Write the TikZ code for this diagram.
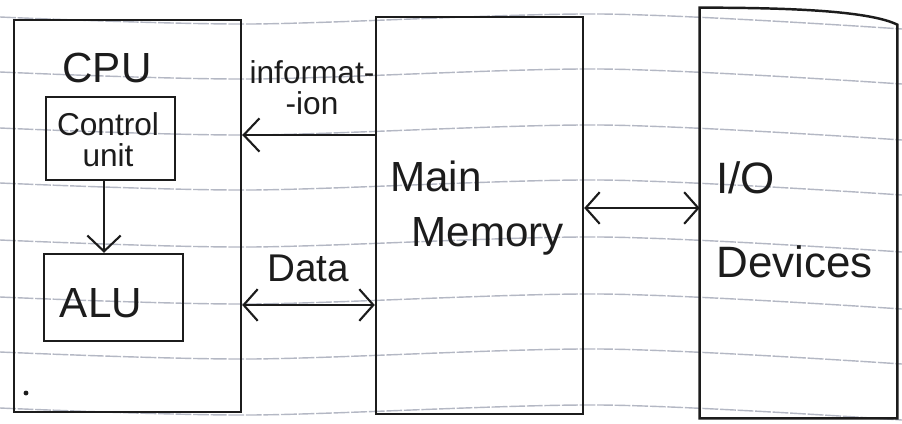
\documentclass[tikz,border=0pt]{standalone}
\usepackage{fontspec}
\setmainfont{Liberation Sans}
\usetikzlibrary{arrows.meta,fit,calc}
\definecolor{ink}{HTML}{1C1C1C}
\definecolor{ruling}{HTML}{B4B8C4}
\begin{document}
\begin{tikzpicture}[x=0.02cm,y=-0.02cm,
  box/.style={draw=ink,line width=1.4pt,rectangle,inner sep=0pt},
  link/.style={draw=ink,line width=1.2pt},
  barb/.style={-{Straight Barb[length=9pt,width=19pt]}},
  dbarb/.style={{Straight Barb[length=8pt,width=18pt]}-{Straight Barb[length=8pt,width=18pt]}},
  big/.style={text=ink,inner sep=0pt,font=\fontsize{24}{28}\selectfont},
  small/.style={text=ink,inner sep=0pt,align=center,font=\fontsize{18}{17.5}\selectfont}]

% page
\fill[white] (0,0) rectangle (902,423);
\useasboundingbox (0,0) rectangle (902,423);

% ruled notebook lines
\foreach \y in {17,72,128,183,240,297,352,408}{
  \draw[ruling,line width=0.8pt,dash pattern=on 9pt off 1pt] plot[smooth] coordinates
    {(0,\y) (250,\y+7) (600,\y-3) (902,\y+12)};
}

% blocks
\node[box,fit={(14,20) (241,412)}] (cpu) {};
\node[box,fit={(46,97) (175,180)}] (cu) {};
\node[box,fit={(44,254) (183,341)}] (alu) {};
\node[box,fit={(376,17) (583,414)}] (mm) {};
\node[inner sep=0pt,fit={(700,8) (897,418)}] (io) {};
\draw[ink,line width=1.4pt] (io.north west)
  .. controls ($(io.north west)+(100,0)$) and ($(io.north east)+(-27,4)$)
  .. ($(io.north east)+(0,17)$) -- (io.south east) -- (io.south west) -- cycle;

% texts
\node[big] (cputext) at (107,68) {CPU};
\node[small] (cutext) at (108,140) {Control\\unit};
\node[big] (alutext) at (101,303) {ALU};
\node[small] (infotext) at (312,88) {informat-\\-ion};
\node[big,font=\fontsize{22}{26}\selectfont] (datatext) at (308,268) {Data};
\node[big,align=left,anchor=west,font=\fontsize{24}{31}\selectfont] (mmtext) at (390,208)
  {Main\\\hspace*{12pt}Memory};
\node[big,align=left,anchor=west,font=\fontsize{25}{48}\selectfont] (iotext) at (716,220)
  {I/O\\Devices};

% connectors
\coordinate (infoY) at (0,135);
\coordinate (dataY) at (0,305);
\coordinate (ioY) at (0,208);
\coordinate (cuX) at (104,0);
\draw[link,barb] (cu.south -| cuX) -- (cuX |- alu.north);
\draw[link,barb] (mm.west |- infoY) -- (cpu.east |- infoY);
\draw[link,dbarb] (cpu.east |- dataY) -- (mm.west |- dataY);
\draw[link,dbarb] (mm.east |- ioY) -- (io.west |- ioY);

% pen dot
\fill[ink] (26,393) circle[radius=1.4pt];
\end{tikzpicture}
\end{document}
